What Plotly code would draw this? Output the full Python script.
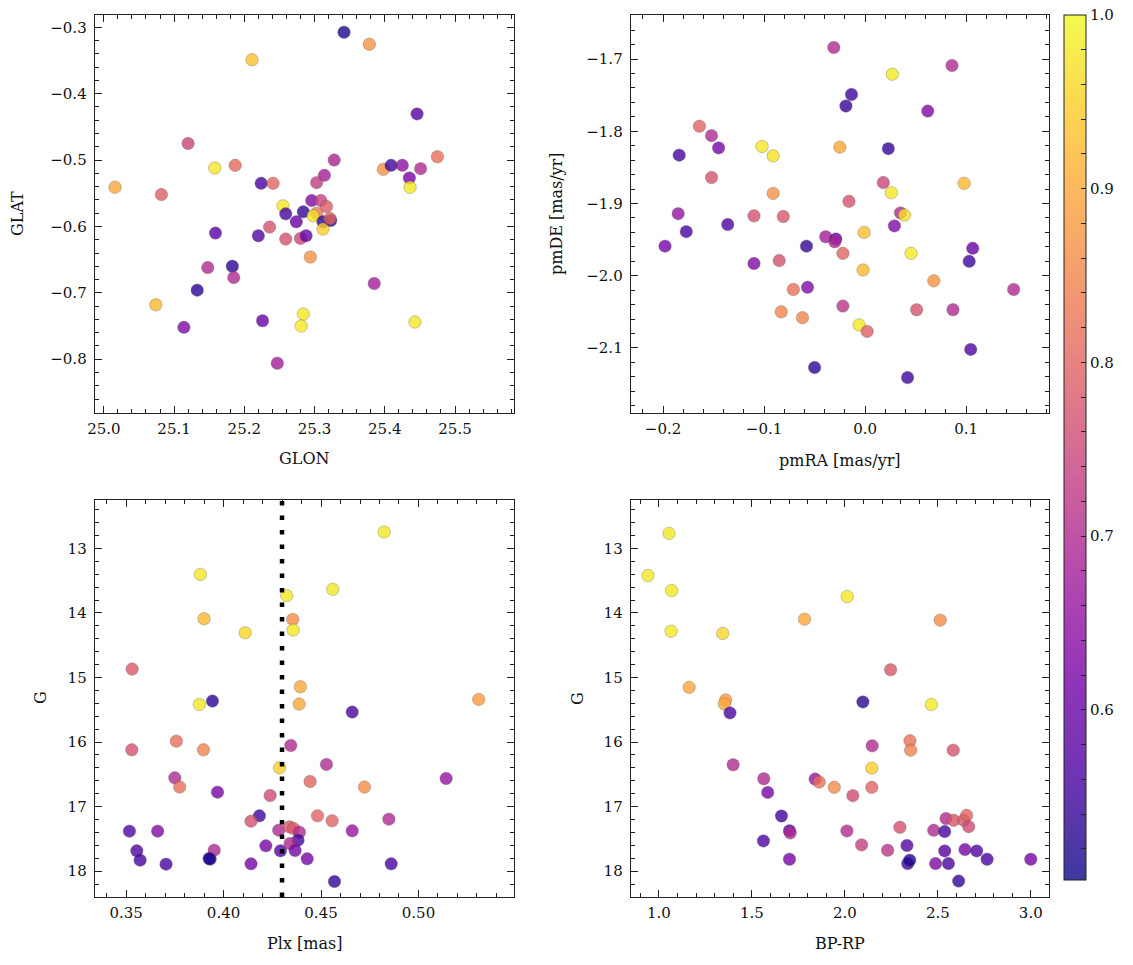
import plotly.graph_objects as go
import plotly.colors as pc

W, H = 1133, 965

# ---------------- Panel 1: sky position ----------------
glon = [25.342, 25.378, 25.211, 25.446, 25.120, 25.328, 25.475, 25.158, 25.187, 25.398,
        25.409, 25.425, 25.451, 25.435, 25.436, 25.314, 25.303, 25.016, 25.082, 25.224,
        25.241, 25.255, 25.259, 25.284, 25.296, 25.309, 25.317, 25.303, 25.298, 25.274,
        25.312, 25.323, 25.322, 25.312, 25.159, 25.220, 25.236, 25.259, 25.280, 25.288,
        25.294, 25.148, 25.183, 25.185, 25.133, 25.385, 25.074, 25.114, 25.226, 25.284,
        25.281, 25.443, 25.247]
glat = [-0.3075, -0.3256, -0.349, -0.4305, -0.475, -0.500, -0.495, -0.512, -0.508, -0.514,
        -0.508, -0.508, -0.513, -0.527, -0.541, -0.523, -0.534, -0.541, -0.552, -0.535,
        -0.535, -0.569, -0.581, -0.578, -0.561, -0.561, -0.570, -0.580, -0.584, -0.593,
        -0.593, -0.591, -0.588, -0.604, -0.610, -0.614, -0.601, -0.619, -0.618, -0.614,
        -0.646, -0.662, -0.660, -0.677, -0.696, -0.686, -0.718, -0.752, -0.742, -0.732,
        -0.750, -0.744, -0.806]
prob_sky = [0.52, 0.87, 0.93, 0.58, 0.75, 0.69, 0.82, 0.98, 0.81, 0.87,
            0.55, 0.65, 0.70, 0.62, 0.98, 0.68, 0.73, 0.90, 0.79, 0.56,
            0.80, 0.98, 0.56, 0.54, 0.63, 0.74, 0.79, 0.83, 0.97, 0.60,
            0.53, 0.52, 0.80, 0.95, 0.58, 0.57, 0.77, 0.77, 0.75, 0.60,
            0.87, 0.70, 0.53, 0.70, 0.53, 0.68, 0.92, 0.63, 0.60, 0.98,
            0.98, 0.98, 0.68]

# ---------------- Panel 2: proper motions ----------------
pmra = [-0.031, 0.086, 0.027, -0.0135, -0.019, 0.062, -0.164, -0.152, -0.145, -0.184,
        -0.102, -0.091, -0.025, 0.023, -0.152, 0.018, 0.098, -0.091, 0.026, -0.016,
        -0.185, -0.110, -0.081, 0.035, 0.039, -0.136, 0.029, -0.177, -0.001, -0.198,
        -0.058, -0.039, -0.029, -0.030, -0.022, 0.0455, 0.1065, 0.103, -0.110, -0.085,
        -0.002, 0.068, -0.071, -0.057, 0.147, -0.022, -0.083, 0.051, 0.087, -0.062,
        -0.006, 0.002, 0.1045, -0.050, 0.042]
pmde = [-1.684, -1.709, -1.721, -1.749, -1.765, -1.772, -1.793, -1.806, -1.823, -1.833,
        -1.821, -1.834, -1.822, -1.824, -1.864, -1.871, -1.872, -1.886, -1.885, -1.897,
        -1.914, -1.917, -1.918, -1.913, -1.916, -1.929, -1.931, -1.939, -1.940, -1.959,
        -1.959, -1.946, -1.949, -1.953, -1.969, -1.969, -1.962, -1.980, -1.983, -1.979,
        -1.992, -2.007, -2.019, -2.016, -2.019, -2.042, -2.050, -2.047, -2.047, -2.058,
        -2.068, -2.077, -2.102, -2.127, -2.141]
prob_pm = [0.70, 0.70, 0.98, 0.55, 0.54, 0.63, 0.80, 0.70, 0.62, 0.56,
           0.98, 0.97, 0.90, 0.54, 0.77, 0.75, 0.92, 0.87, 0.98, 0.77,
           0.66, 0.77, 0.78, 0.70, 0.97, 0.57, 0.63, 0.56, 0.93, 0.62,
           0.54, 0.68, 0.60, 0.69, 0.80, 0.98, 0.60, 0.55, 0.63, 0.77,
           0.92, 0.87, 0.82, 0.63, 0.70, 0.72, 0.85, 0.77, 0.70, 0.85,
           0.98, 0.79, 0.57, 0.53, 0.55]

# ---------------- Panel 3: parallax vs G ----------------
plx = [0.4824, 0.3881, 0.4560, 0.4324, 0.3900, 0.4355, 0.4357, 0.4111, 0.3531, 0.4394,
       0.3876, 0.3943, 0.4388, 0.5309, 0.4660, 0.3758, 0.3529, 0.3897, 0.4345, 0.4287,
       0.4528, 0.3750, 0.3775, 0.4444, 0.4723, 0.5142, 0.3969, 0.4239, 0.4184, 0.4141,
       0.4482, 0.4557, 0.4848, 0.3517, 0.3662, 0.4660, 0.4283, 0.4338, 0.4359, 0.4389,
       0.4382, 0.4341, 0.4217, 0.3555, 0.3952, 0.4292, 0.4367, 0.3572, 0.3705, 0.3931,
       0.3926, 0.4141, 0.4429, 0.4860, 0.4569]
g_plx = [12.747, 13.403, 13.635, 13.733, 14.090, 14.100, 14.265, 14.307, 14.870, 15.144,
         15.417, 15.366, 15.412, 15.340, 15.536, 15.986, 16.120, 16.120, 16.053, 16.399,
         16.347, 16.554, 16.698, 16.611, 16.698, 16.564, 16.776, 16.828, 17.143, 17.225,
         17.143, 17.220, 17.194, 17.380, 17.380, 17.375, 17.365, 17.313, 17.339, 17.396,
         17.520, 17.571, 17.607, 17.685, 17.675, 17.685, 17.680, 17.830, 17.891, 17.814,
         17.804, 17.886, 17.809, 17.886, 18.160]
prob_plx = [0.98, 0.98, 0.98, 0.98, 0.92, 0.86, 0.98, 0.96, 0.78, 0.90,
            0.98, 0.53, 0.90, 0.88, 0.56, 0.82, 0.77, 0.85, 0.70, 0.95,
            0.70, 0.70, 0.82, 0.80, 0.86, 0.66, 0.62, 0.76, 0.55, 0.77,
            0.80, 0.80, 0.70, 0.57, 0.63, 0.66, 0.70, 0.78, 0.78, 0.70,
            0.56, 0.70, 0.62, 0.57, 0.70, 0.58, 0.62, 0.56, 0.56, 0.52,
            0.52, 0.62, 0.62, 0.56, 0.54]
plx_ref = 0.43

# ---------------- Panel 4: CMD ----------------
bprp = [1.054, 0.941, 1.068, 2.013, 1.783, 2.513, 1.065, 1.343, 2.246, 1.162,
        1.359, 1.352, 2.465, 2.097, 1.382, 2.350, 2.354, 2.147, 2.583, 2.145,
        1.399, 1.564, 1.585, 1.840, 1.862, 1.943, 2.145, 2.043, 1.659, 1.702,
        1.706, 1.562, 1.702, 2.011, 2.090, 2.230, 2.296, 2.334, 2.338, 2.349,
        2.478, 2.488, 2.544, 2.585, 2.639, 2.655, 2.666, 2.537, 2.537, 2.557,
        2.646, 2.709, 2.765, 2.612, 3.000]
g_cmd = [12.768, 13.422, 13.654, 13.747, 14.097, 14.112, 14.282, 14.318, 14.880, 15.152,
         15.348, 15.410, 15.420, 15.379, 15.549, 15.981, 16.126, 16.059, 16.126, 16.404,
         16.352, 16.568, 16.780, 16.574, 16.620, 16.702, 16.702, 16.831, 17.145, 17.372,
         17.408, 17.531, 17.815, 17.377, 17.593, 17.676, 17.320, 17.603, 17.882, 17.830,
         17.367, 17.882, 17.186, 17.212, 17.212, 17.135, 17.310, 17.387, 17.686, 17.882,
         17.665, 17.686, 17.815, 18.154, 17.815]
prob_cmd = [0.98, 0.98, 0.98, 0.98, 0.90, 0.86, 0.98, 0.96, 0.78, 0.90,
            0.88, 0.90, 0.98, 0.53, 0.56, 0.82, 0.85, 0.70, 0.77, 0.95,
            0.70, 0.70, 0.62, 0.66, 0.82, 0.86, 0.80, 0.76, 0.55, 0.58,
            0.70, 0.57, 0.62, 0.70, 0.74, 0.72, 0.77, 0.58, 0.55, 0.52,
            0.70, 0.63, 0.70, 0.78, 0.78, 0.80, 0.76, 0.56, 0.58, 0.56,
            0.62, 0.57, 0.56, 0.54, 0.62]

cb_ticks = [0.6, 0.7, 0.8, 0.9, 1.0]
CMIN, CMAX = 0.502, 1.0

FONT = "DejaVu Serif"
FS = 15

# blended plasma (alpha 0.8 on white) for colorbar
def blend(hexc, a=0.8):
    r, g, b = pc.hex_to_rgb(hexc)
    return "rgb(%d,%d,%d)" % (round(r * a + 255 * (1 - a)), round(g * a + 255 * (1 - a)), round(b * a + 255 * (1 - a)))

plasma = pc.sequential.Plasma
n = len(plasma)
cs_blend = [[i / (n - 1), blend(c)] for i, c in enumerate(plasma)]

# pixel helpers
def px(x):
    return x / W

def py(y):
    return 1 - y / H

dom = {
    1: ([px(94.7), px(514)], [py(413), py(15)]),
    2: ([px(630.7), px(1049)], [py(413), py(15)]),
    3: ([px(94.7), px(514)], [py(897), py(500)]),
    4: ([px(630.7), px(1049)], [py(897), py(500)]),
}

fig = go.Figure()

def add_scatter(x, y, c, i):
    fig.add_trace(go.Scatter(
        x=x, y=y, mode="markers",
        xaxis="x" if i == 1 else "x%d" % i,
        yaxis="y" if i == 1 else "y%d" % i,
        marker=dict(size=12.5, color=c, colorscale="Plasma", cmin=CMIN, cmax=CMAX,
                    opacity=0.8, line=dict(color="rgba(70,70,70,0.7)", width=0.5),
                    showscale=False),
        showlegend=False, hoverinfo="x+y"))

add_scatter(glon, glat, prob_sky, 1)
add_scatter(pmra, pmde, prob_pm, 2)
add_scatter(plx, g_plx, prob_plx, 3)
add_scatter(bprp, g_cmd, prob_cmd, 4)

# colorbar carrier
minor_vals = [round(0.52 + 0.02 * k, 2) for k in range(25)]
fig.add_trace(go.Scatter(
    x=[None], y=[None], mode="markers", showlegend=False, hoverinfo="skip",
    marker=dict(color=[0.75], cmin=CMIN, cmax=CMAX, colorscale=cs_blend, showscale=True,
                colorbar=dict(
                    x=px(1064), xanchor="left", y=py(447.5), yanchor="middle",
                    len=865, lenmode="pixels", thickness=22, thicknessmode="pixels",
                    xpad=0, ypad=0, outlinewidth=1, outlinecolor="#222",
                    tickvals=minor_vals,
                    ticktext=[("%.1f" % v) if v in cb_ticks else "" for v in minor_vals],
                    ticks="inside", ticklen=5, tickwidth=1, tickcolor="#222",
                    tickfont=dict(family=FONT, size=FS, color="#111"))),
))

def axis_common(rng, d0, dmaj, dmin, dom_, anchor, ylike=False):
    d = dict(range=rng, domain=dom_, anchor=anchor, tick0=d0, dtick=dmaj, automargin=False,
             ticks="inside", ticklen=7, tickwidth=1, tickcolor="#222",
             minor=dict(ticks="inside", ticklen=4, tickwidth=1, tickcolor="#222", dtick=dmin, tick0=d0),
             showline=True, linecolor="#222", linewidth=1, mirror="allticks",
             showgrid=False, zeroline=False,
             tickfont=dict(family=FONT, size=FS, color="#111"))
    d["ticklabelstandoff"] = 4 if ylike else 2
    return d

layout = dict(
    width=W, height=H, plot_bgcolor="white", paper_bgcolor="white",
    margin=dict(l=0, r=0, t=0, b=0, autoexpand=False), showlegend=False,
    font=dict(family=FONT, size=FS, color="#111"),
)
layout["xaxis"] = axis_common([24.987, 25.584], 25.0, 0.1, 0.02, dom[1][0], "y")
layout["yaxis"] = axis_common([-0.881, -0.2815], -0.3, 0.1, 0.02, dom[1][1], "x", True)
layout["xaxis2"] = axis_common([-0.232, 0.182], 0.0, 0.1, 0.02, dom[2][0], "y2")
layout["yaxis2"] = axis_common([-2.190, -1.639], -1.7, 0.1, 0.02, dom[2][1], "x2", True)
layout["xaxis3"] = axis_common([0.3339, 0.549], 0.35, 0.05, 0.01, dom[3][0], "y3")
layout["yaxis3"] = axis_common([18.40, 12.251], 13, 1, 0.2, dom[3][1], "x3", True)
layout["xaxis4"] = axis_common([0.848, 3.098], 1.0, 0.5, 0.1, dom[4][0], "y4")
layout["yaxis4"] = axis_common([18.40, 12.251], 13, 1, 0.2, dom[4][1], "x4", True)
layout["xaxis"]["tickformat"] = ".1f"
layout["yaxis"]["tickformat"] = ".1f"
layout["xaxis2"]["tickformat"] = ".1f"
layout["yaxis2"]["tickformat"] = ".1f"
layout["xaxis3"]["tickformat"] = ".2f"
layout["xaxis4"]["tickformat"] = ".1f"
fig.update_layout(**layout)

# reference parallax line
fig.add_shape(type="line", xref="x3", yref="y3 domain", x0=plx_ref, x1=plx_ref, y0=0, y1=1,
              line=dict(color="black", width=4.5, dash="4.5px,10px"), layer="above")

titles = [
    ("GLON", 304.5, 458, 0),
    ("GLAT", 18, 214, -90),
    ("pmRA [mas/yr]", 840, 461, 0),
    ("pmDE [mas/yr]", 557, 214, -90),
    ("Plx [mas]", 304.5, 943, 0),
    ("G", 40, 698, -90),
    ("BP-RP", 840, 943, 0),
    ("G", 577, 698, -90),
]
for t, x, y, ang in titles:
    fig.add_annotation(text=t, x=px(x), y=py(y), xref="paper", yref="paper",
                       showarrow=False, textangle=ang, xanchor="center", yanchor="middle",
                       font=dict(family=FONT, size=FS + 1, color="#111"))

fig.write_html("out.html", config={"displayModeBar": False},
               post_script="document.body.style.margin='0px';")
